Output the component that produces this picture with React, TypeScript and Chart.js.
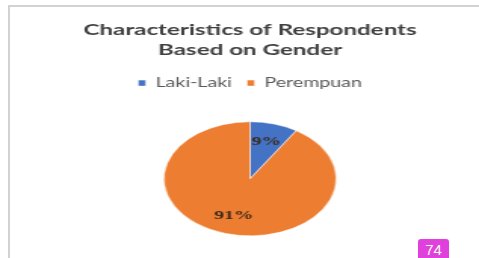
import React, { useEffect, useRef } from "react";
import { Chart, registerables } from "chart.js";

Chart.register(...registerables);

const titleLines = ["Characteristics of Respondents", "Based on Gender"];
const categories = ["Laki-Laki", "Perempuan"];
const values = [9, 91];
const valueLabels = ["9%", "91%"];
const colors = ["#4472C4", "#ED7D31"];
const pageNumber = "74";

// the reference picture is stretched horizontally; draw narrower and stretch
const CANVAS_W = 317;
const CANVAS_H = 258;
const STRETCH = 479 / CANVAS_W;

const labelPlugin = {
  id: "sliceLabels",
  afterDatasetsDraw(chart: any) {
    const meta = chart.getDatasetMeta(0);
    const ctx = chart.ctx;
    ctx.save();
    ctx.font = "bold 13px 'Liberation Serif', 'DejaVu Serif', serif";
    ctx.fillStyle = "#3b2a1a";
    ctx.textAlign = "center";
    ctx.textBaseline = "middle";
    meta.data.forEach((el: any, i: number) => {
      const mid = (el.startAngle + el.endAngle) / 2;
      const rr = el.outerRadius * 0.68;
      ctx.fillText(valueLabels[i], el.x + Math.cos(mid) * rr, el.y + Math.sin(mid) * rr);
    });
    ctx.restore();
  },
};

export default function App() {
  const ref = useRef<HTMLCanvasElement | null>(null);
  useEffect(() => {
    if (!ref.current) return;
    const chart = new Chart(ref.current, {
      type: "pie",
      data: {
        labels: categories,
        datasets: [
          {
            data: values,
            backgroundColor: colors,
            borderColor: "#ffffff",
            borderWidth: 0.5,
          },
        ],
      },
      options: {
        animation: false,
        responsive: false,
        radius: 57,
        layout: { padding: { top: 19, left: 14, right: 0, bottom: -4 } },
        plugins: {
          title: {
            display: true,
            text: titleLines,
            color: "#404040",
            font: { size: 16, weight: "bold", family: "Lato, 'Open Sans', sans-serif", lineHeight: 1.3 },
            padding: { top: 0, bottom: 6 },
          },
          legend: {
            display: true,
            position: "top",
            labels: {
              color: "#595959",
              font: { size: 13, family: "Lato, 'Open Sans', sans-serif" },
              boxWidth: 5,
              boxHeight: 6,
              padding: 10,
            },
          },
          tooltip: { enabled: false },
        },
      } as any,
      plugins: [labelPlugin],
    });
    return () => chart.destroy();
  }, []);
  return (
    <div style={{ position: "absolute", left: 0, top: 0, width: 479, height: 258, overflow: "hidden", background: "#fff" }}>
      <div style={{ position: "absolute", left: 0, top: 0, transform: `scaleX(${STRETCH})`, transformOrigin: "0 0" }}>
        <canvas ref={ref} width={CANVAS_W} height={CANVAS_H} style={{ display: "block" }} />
      </div>
      <div style={{ position: "absolute", left: 8, top: 5, width: 2, height: 253, background: "#d2d2d2" }} />
      <div style={{ position: "absolute", left: 8, top: 5, width: 471, height: 2, background: "#d2d2d2" }} />
      <div
        style={{
          position: "absolute",
          left: 418,
          top: 239,
          width: 31,
          height: 22,
          background: "#E040DC",
          borderRadius: "3px 3px 0 0",
          color: "#fff",
          font: "15px 'Liberation Sans', Arial, sans-serif",
          textAlign: "center",
          lineHeight: "22px",
        }}
      >
        {pageNumber}
      </div>
    </div>
  );
}
